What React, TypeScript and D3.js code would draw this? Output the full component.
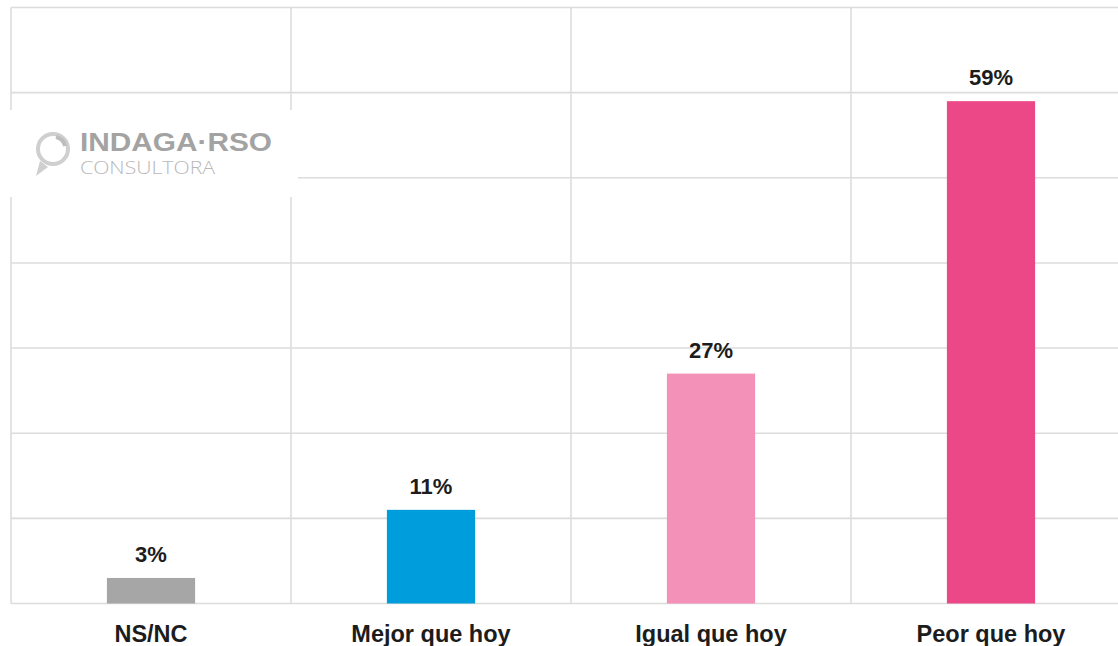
import React from "react";
import * as d3 from "d3";

const categories = ["NS/NC", "Mejor que hoy", "Igual que hoy", "Peor que hoy"];
const values = [3, 11, 27, 59];
const colors = ["#a6a6a6", "#009ddc", "#f491b8", "#ec4887"];
const yTicks = [0, 10, 20, 30, 40, 50, 60, 70];

const W = 1118;
const H = 646;

export default function App() {
  const x = d3.scaleBand<string>().domain(categories).range([11, 1131]).padding(0);
  const y = d3.scaleLinear().domain([0, 70]).range([603.5, 7.5]);
  const bw = x.bandwidth() * 0.315;
  const grid = "#dcdcdc";
  const font = "Liberation Sans, Arial, Helvetica, sans-serif";

  return (
    <div style={{ position: "fixed", left: 0, top: 0 }}>
      <svg width={W} height={H} style={{ display: "block", background: "#fff" }}>
        {yTicks.map((t) => (
          <line key={"h" + t} x1={11} x2={W} y1={y(t)} y2={y(t)} stroke={grid} strokeWidth={1.6} />
        ))}
        {categories.map((c) => (
          <line key={"v" + c} x1={x(c)!} x2={x(c)!} y1={y(70)} y2={y(0)} stroke={grid} strokeWidth={1.6} />
        ))}
        <rect x={0} y={110} width={298} height={87} fill="#fff" />
        <g>
          <circle cx={53} cy={149} r={15} fill="none" stroke="#cfcfcf" strokeWidth={4} />
          <path d="M 56 137 A 12 12 0 0 1 65 146" fill="none" stroke="#bdbdbd" strokeWidth={4} />
          <path d="M 36 176 L 40 161 L 48 167 Z" fill="#cfcfcf" />
          <text x={80} y={151} fontFamily={font} fontWeight="bold" fontSize={25} fill="#a3a3a3" textLength={192} lengthAdjust="spacingAndGlyphs">
            INDAGA·RSO
          </text>
          <text x={80} y={174} fontFamily="Open Sans, DejaVu Sans, sans-serif" fontWeight={300} fontSize={19} fill="#b8b8b8" textLength={135} lengthAdjust="spacingAndGlyphs">
            CONSULTORA
          </text>
        </g>
        {categories.map((c, i) => {
          const cx = x(c)! + x.bandwidth() / 2;
          return (
            <g key={"b" + c}>
              <rect x={cx - bw / 2} y={y(values[i])} width={bw} height={y(0) - y(values[i])} fill={colors[i]} />
              <text x={cx} y={y(values[i]) - 16} textAnchor="middle" fontFamily={font} fontWeight="bold" fontSize={22} fill="#1c1c1c">
                {values[i]}%
              </text>
              <text x={cx} y={642} textAnchor="middle" fontFamily={font} fontWeight="bold" fontSize={23.5} fill="#1c1c1c">
                {c}
              </text>
            </g>
          );
        })}
      </svg>
    </div>
  );
}
